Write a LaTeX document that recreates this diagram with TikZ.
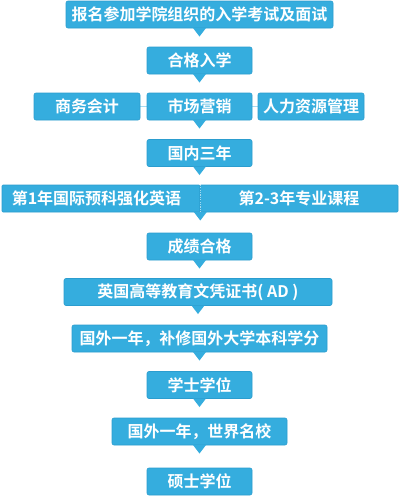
\documentclass[tikz,border=0pt]{standalone}
\usepackage{fontspec}
\newfontfamily\cjkb{Noto Sans CJK SC Bold}
\definecolor{boxblue}{HTML}{35ADDE}
\definecolor{boxedge}{HTML}{2B9DCF}
\definecolor{linkblue}{HTML}{A6DBF1}
\begin{document}
\begin{tikzpicture}[x=1pt,y=-1pt,
  stepbox/.style={rectangle, rounded corners=2pt, fill=boxblue, draw=boxedge, line width=0.6pt,
    text=white, font=\cjkb\fontsize{16}{18}\selectfont, minimum height=27pt, inner sep=0pt},
  pointer/.style={fill=boxblue}]
\useasboundingbox (0,0) rectangle (400,496);
\fill[white] (0,0) rectangle (400,496);

\node[stepbox, minimum width=267pt] (n1) at (199.5,14.5) {报名参加学院组织的入学考试及面试};
\node[stepbox, minimum width=105pt] (n2) at (199.5,60.5) {合格入学};
\draw[linkblue, line width=1.2pt] (87,106.5) -- (311,106.5);
\node[stepbox, minimum width=106pt] (n3a) at (87,106.5) {商务会计};
\node[stepbox, minimum width=105pt] (n3b) at (199.5,106.5) {市场营销};
\node[stepbox, minimum width=106pt] (n3c) at (311,106.5) {人力资源管理};
\node[stepbox, minimum width=105pt] (n4) at (199.5,153) {国内三年};
\node[stepbox, minimum width=198pt, rounded corners=1pt] (n5a) at (101,198.5) {\hspace*{-9pt}第1年国际预科强化英语};
\node[stepbox, minimum width=198pt, rounded corners=1pt] (n5b) at (299,198.5) {第2-3年专业课程};
\draw[white!55!boxblue, line width=1pt, dash pattern=on 1.2pt off 1.2pt] (n5a.north east) -- (n5a.south east);
\node[stepbox, minimum width=105pt] (n6) at (199.5,246.5) {成绩合格};
\node[stepbox, minimum width=268pt] (n7) at (198,292) {英国高等教育文凭证书( AD )};
\node[stepbox, minimum width=255pt] (n8) at (199.5,338.5) {国外一年，补修国外大学本科学分};
\node[stepbox, minimum width=105pt] (n9) at (199.5,385) {学士学位};
\node[stepbox, minimum width=175pt] (n10) at (199.5,431.5) {国外一年，世界名校};
\node[stepbox, minimum width=105pt] (n11) at (199.5,481.5) {硕士学位};

\foreach \n in {n1,n2,n3b,n4,n6,n7,n8,n9,n10}{
  \fill[boxblue] ([xshift=-6.5pt,yshift=0.3pt]\n.south) -- ++(6.5,8.5) -- ++(6.5,-8.5) -- cycle;
}
\fill[boxblue] ([xshift=-6.5pt,yshift=0.3pt]n5a.south east) -- ++(6.5,8.5) -- ++(6.5,-8.5) -- cycle;
\end{tikzpicture}
\end{document}
